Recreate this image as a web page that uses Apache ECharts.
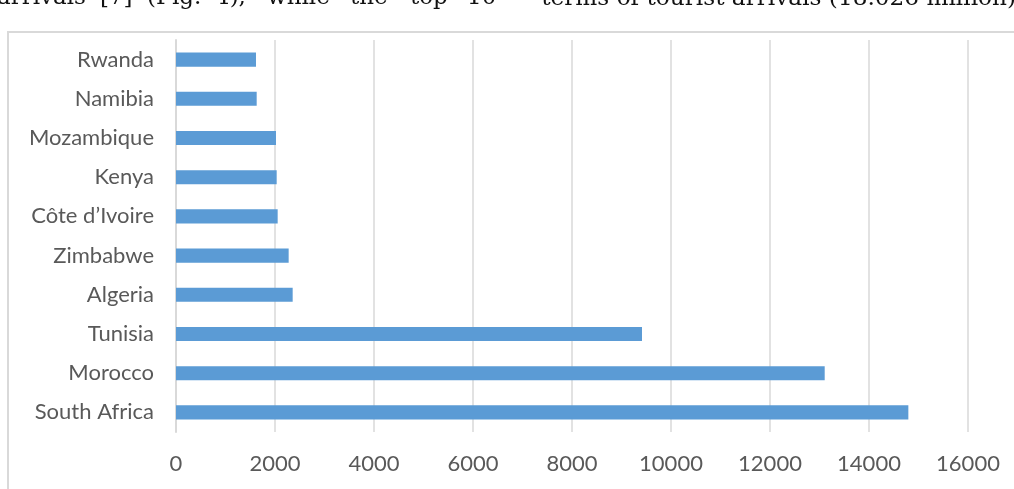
<!DOCTYPE html>
<html>
<head>
<meta charset="utf-8">
<script src="https://cdn.jsdelivr.net/npm/echarts@6/dist/echarts.min.js"></script>
<style>
html,body{margin:0;padding:0;background:#fff;}
#chart{width:1014px;height:489px;}
</style>
</head>
<body>
<div id="chart"></div>
<script>
const countries = ['South Africa','Morocco','Tunisia','Algeria','Zimbabwe','Côte d\u2019Ivoire','Kenya','Mozambique','Namibia','Rwanda'];
const arrivals = [14795, 13105, 9414, 2357, 2276, 2054, 2034, 2020, 1630, 1616];
const xTicks = [0, 2000, 4000, 6000, 8000, 10000, 12000, 14000, 16000];
const leftWords = ['arrivals','[7]','(Fig.','4),','while','the','top','10'];
const leftWordX = [-3, 100, 147, 215, 267, 350, 410, 467];
const rightText = 'terms of tourist arrivals (18.026 million)';

const chart = echarts.init(document.getElementById('chart'));
const textEls = leftWords.map((w, i) => ({
  type: 'text', left: leftWordX[i], top: -13,
  style: { text: w, font: '23px "DejaVu Serif", serif', fill: '#111' }
}));
textEls.push({
  type: 'text', right: -2, top: -13,
  style: { text: rightText, font: '23.2px "DejaVu Serif", serif', fill: '#111' }
});
textEls.push({
  type: 'rect', shape: { x: 8, y: 32, width: 1100, height: 600 },
  style: { fill: 'none', stroke: '#d9d9d9', lineWidth: 2 }
});

chart.setOption({
  animation: false,
  backgroundColor: '#fff',
  grid: { left: 176, right: 46, top: 40, bottom: 57 },
  graphic: textEls,
  xAxis: {
    type: 'value', min: xTicks[0], max: xTicks[xTicks.length - 1], interval: 2000,
    axisLine: { show: false }, axisTick: { show: false },
    splitLine: { lineStyle: { color: '#d9d9d9', width: 1.5 } },
    axisLabel: { color: '#595959', fontSize: 22, fontFamily: 'Lato, sans-serif', margin: 21,
      formatter: v => String(v) }
  },
  yAxis: {
    type: 'category', data: countries,
    axisLine: { lineStyle: { color: '#d9d9d9', width: 2 } },
    axisTick: { show: false },
    axisLabel: { color: '#595959', fontSize: 22, fontFamily: 'Lato, sans-serif', margin: 22 }
  },
  series: [{
    type: 'bar', data: arrivals, barCategoryGap: '64%',
    itemStyle: { color: '#5b9bd5' }
  }]
});
</script>
</body>
</html>
